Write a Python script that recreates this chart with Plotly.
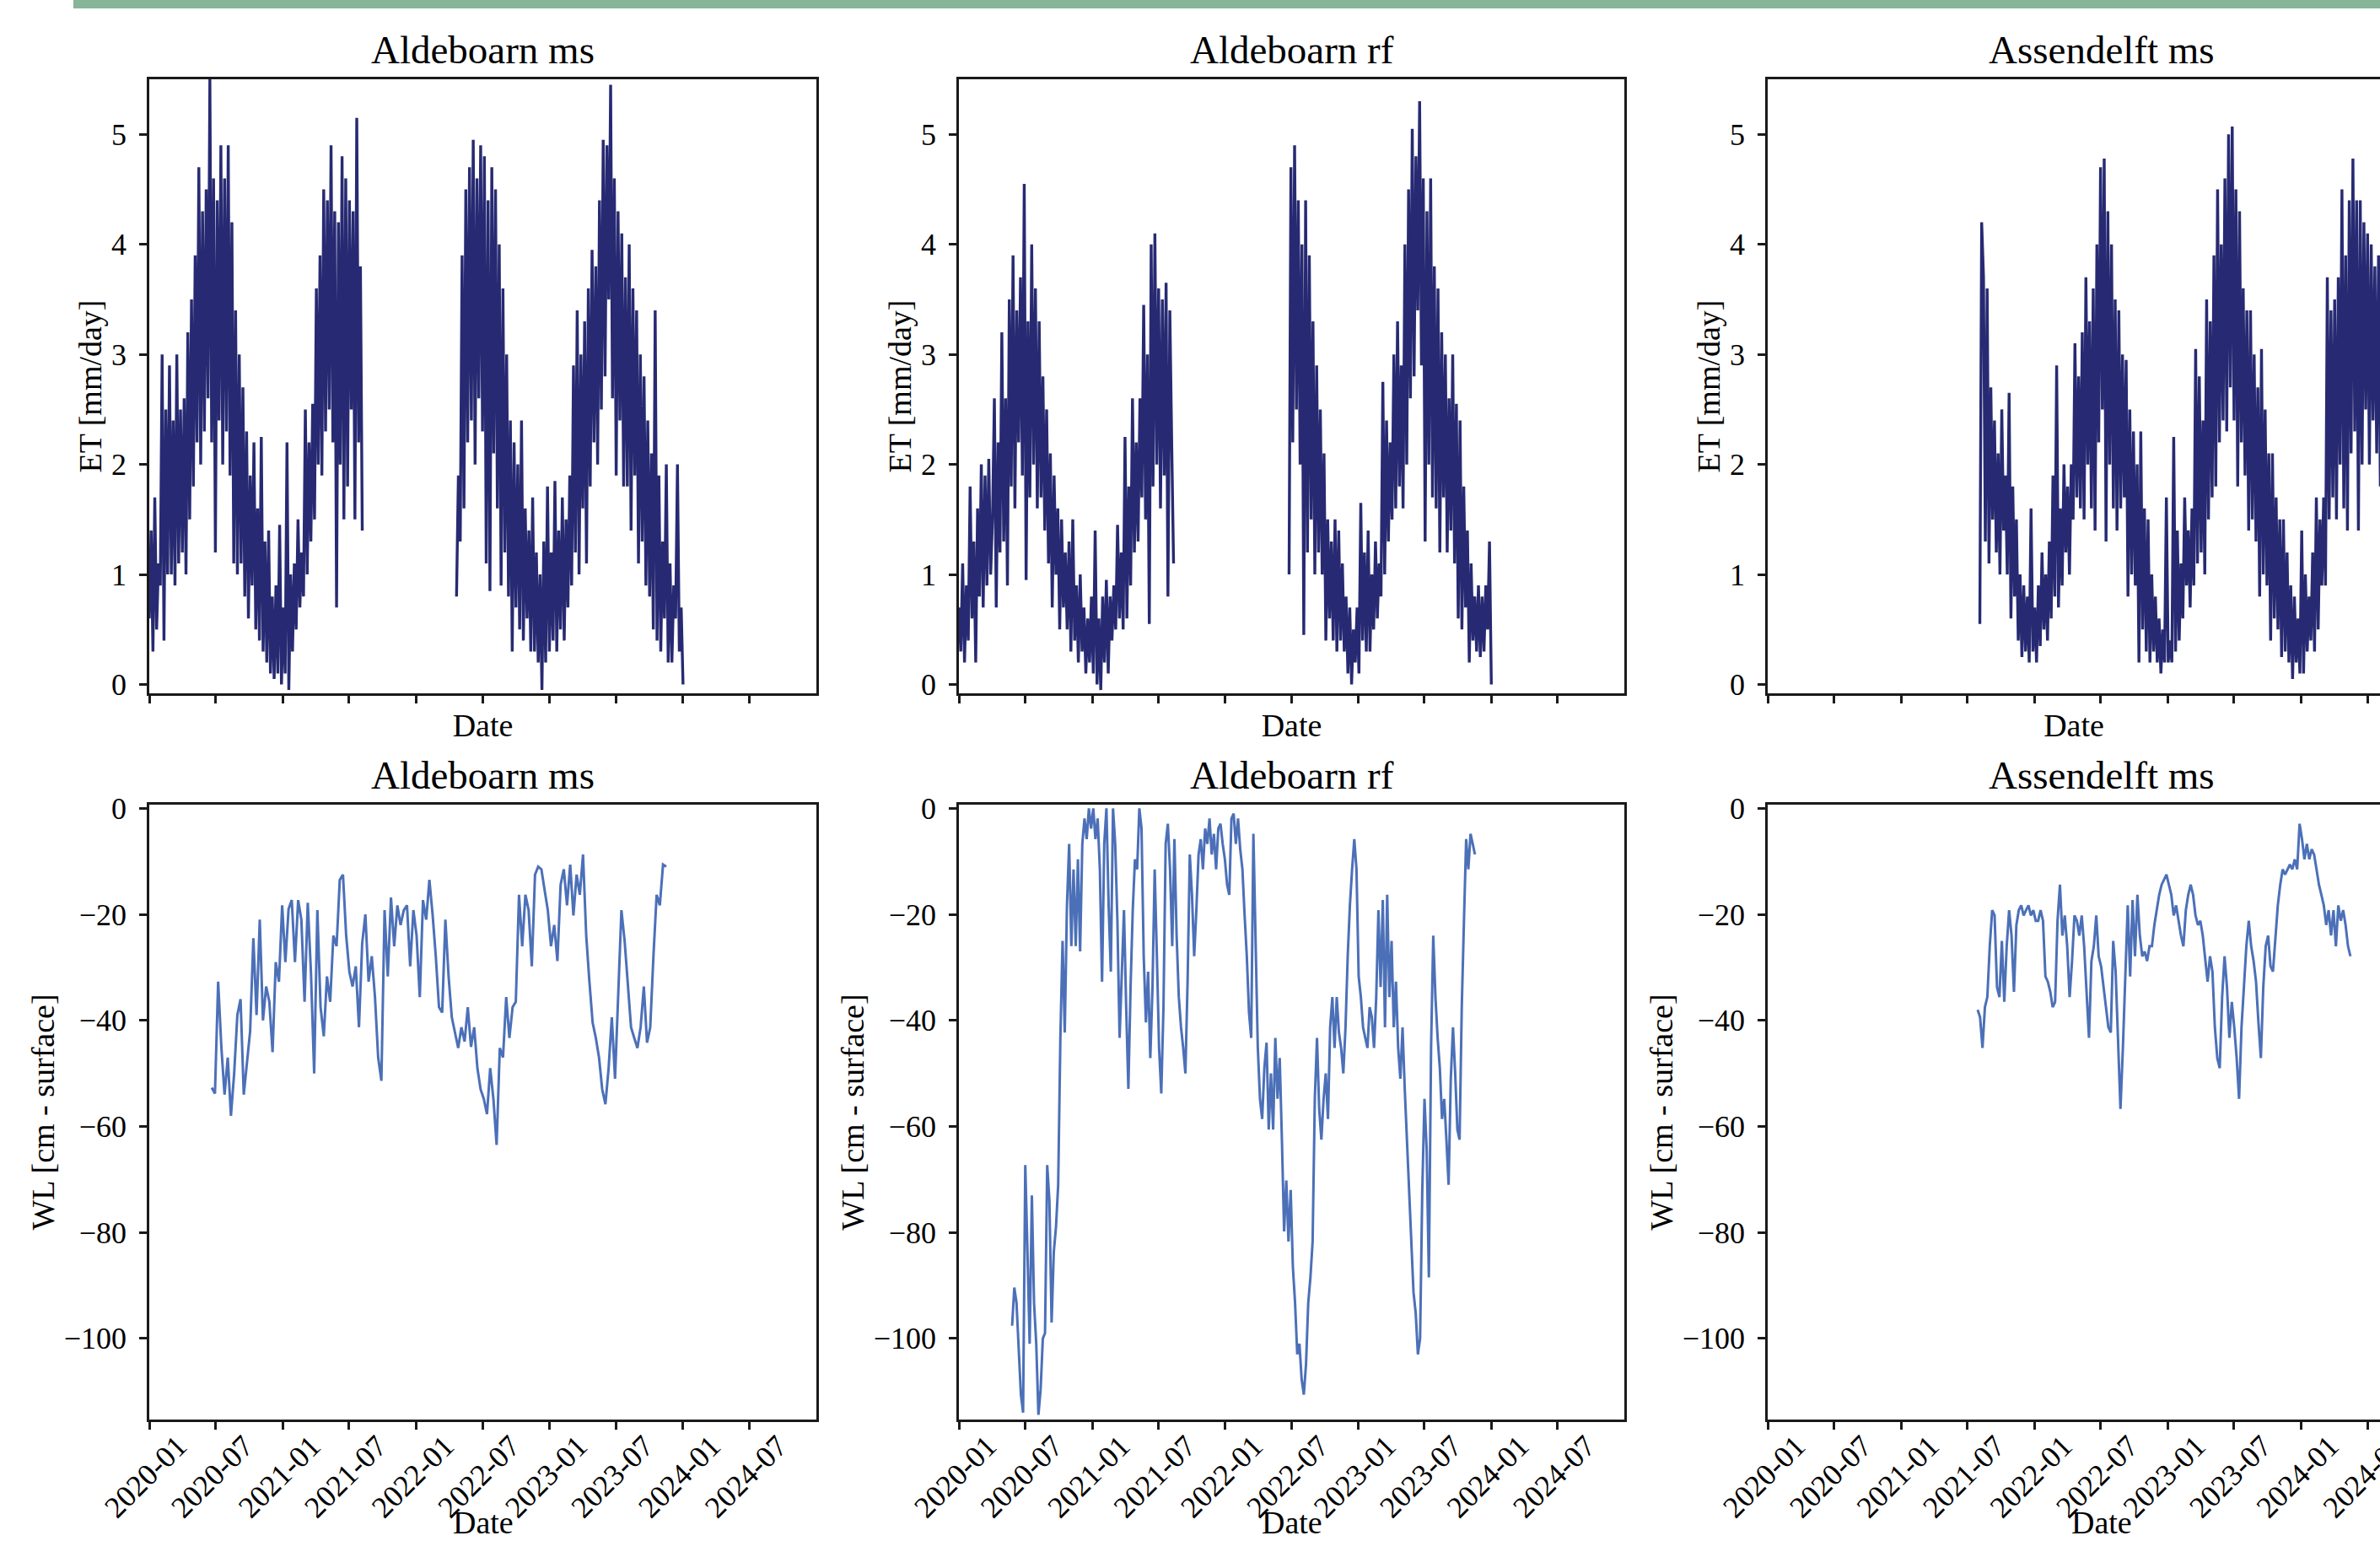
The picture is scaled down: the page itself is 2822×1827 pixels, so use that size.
import pandas as pd
import plotly.graph_objects as go

# ---------------- data ----------------
titles = ["Aldeboarn ms", "Aldeboarn rf", "Assendelft ms"]

# ET [mm/day], ~5-day samples, two segments for the Aldeboarn stations
et_ald_ms_seg1_span = ("2020-01-01", "2021-08-06")
et_ald_ms_seg1 = [
    0.6, 1.4, 0.3, 1.7, 0.5, 1.1,
    0.9, 3.0, 0.4, 2.5, 1.0, 2.9,
    1.0, 2.4, 0.9, 3.0, 1.1, 2.5,
    1.2, 2.6, 1.0, 3.2, 1.5, 3.5,
    1.8, 3.9, 2.2, 4.7, 2.0, 4.3,
    2.3, 4.5, 2.6, 5.5, 2.2, 4.6,
    1.2, 4.4, 2.4, 4.9, 2.0, 4.6,
    2.3, 4.9, 1.9, 4.2, 1.1, 3.4,
    1.0, 3.0, 1.1, 2.7, 0.8, 2.3,
    0.6, 1.9, 0.9, 2.2, 0.5, 1.6,
    0.4, 2.25, 0.3, 1.3, 0.2, 1.4,
    0.1, 0.8, 0.05, 0.9, 0.1, 1.45,
    0.0, 0.7, 0.1, 2.2, -0.05, 1.0,
    0.3, 1.1, 0.5, 1.5, 0.7, 1.2,
    0.8, 2.5, 1.0, 2.2, 1.3, 2.55,
    1.5, 3.6, 2.0, 3.9, 1.9, 4.5,
    2.3, 4.4, 2.5, 4.9, 2.2, 4.3,
    0.7, 4.2, 2.0, 4.8, 1.5, 4.6,
    1.8, 4.4, 2.5, 4.3, 1.5, 5.15,
    2.2, 3.8, 1.4,
]
et_ald_ms_seg2_span = ("2022-04-21", "2024-01-01")
et_ald_ms_seg2 = [
    0.8, 1.9,
    1.3, 3.9, 1.6, 4.5, 2.2, 4.7,
    2.4, 4.95, 2.0, 4.6, 2.6, 4.9,
    2.3, 4.8, 1.1, 4.4, 0.85, 4.7,
    2.1, 4.5, 1.6, 4.0, 0.9, 3.6,
    1.2, 3.0, 0.8, 2.4, 0.3, 2.2,
    0.7, 2.0, 0.5, 2.4, 0.4, 1.6,
    0.6, 1.4, 0.3, 1.7, 0.3, 1.2,
    0.2, 1.0, -0.05, 1.3, 0.2, 1.8,
    0.3, 1.2, 0.4, 1.85, 0.3, 1.4,
    0.5, 1.7, 0.4, 1.5, 0.7, 1.9,
    0.9, 2.9, 1.2, 3.4, 1.0, 3.0,
    1.6, 3.3, 1.1, 3.6, 1.8, 3.95,
    2.2, 3.8, 2.0, 4.4, 2.5, 4.95,
    2.8, 4.9, 3.5, 5.45, 2.6, 4.6,
    1.9, 4.3, 2.4, 4.1, 1.8, 3.7,
    1.8, 4.0, 1.4, 3.6, 1.9, 3.4,
    1.1, 3.0, 1.3, 2.8, 0.9, 2.4,
    0.8, 2.1, 0.5, 3.4, 0.4, 1.9,
    0.3, 1.3, 0.6, 2.0, 0.2, 1.1,
    0.2, 0.9, 0.6, 2.0, 0.3, 0.7, 0.0,
]

et_ald_rf_seg1_span = ("2020-01-01", "2021-08-12")
et_ald_rf_seg1 = [
    0.7, 0.3, 1.1, 0.2, 0.9, 0.4,
    1.8, 0.6, 1.3, 0.2, 1.6, 0.8,
    2.0, 0.7, 1.9, 0.9, 2.05, 1.0,
    1.5, 2.6, 0.7, 2.2, 1.2, 3.2,
    1.3, 2.6, 0.9, 3.5, 1.8, 3.9,
    1.6, 3.4, 2.2, 3.7, 1.9, 4.55,
    0.95, 3.3, 1.7, 4.0, 2.0, 3.6,
    1.6, 3.3, 1.7, 2.8, 1.4, 2.5,
    1.1, 2.1, 0.7, 1.9, 1.0, 1.6,
    0.5, 1.5, 0.7, 1.2, 0.5, 1.3,
    0.3, 1.5, 0.4, 0.9, 0.2, 1.0,
    0.3, 0.7, 0.1, 0.6, 0.2, 0.8,
    0.1, 1.4, 0.0, 0.6, -0.05, 0.8,
    0.2, 0.95, 0.1, 0.8, 0.4, 0.9,
    0.5, 1.45, 0.6, 1.2, 0.5, 2.25,
    0.6, 1.8, 0.9, 2.6, 1.2, 2.2,
    1.3, 2.6, 1.7, 3.45, 1.5, 3.0,
    0.55, 4.0, 1.8, 4.1, 2.0, 3.6,
    1.6, 3.5, 1.9, 3.65, 0.8, 3.4,
    2.2, 1.1,
]
et_ald_rf_seg2_span = ("2022-06-25", "2024-01-01")
et_ald_rf_seg2 = [
    1.0, 4.7,
    2.2, 4.9, 2.5, 4.4, 2.0, 4.0,
    0.45, 4.4, 1.2, 3.9, 1.5, 3.3,
    1.0, 2.9, 1.2, 2.5, 1.0, 2.1,
    0.4, 1.5, 0.6, 1.3, 0.4, 1.5,
    0.3, 1.4, 0.4, 1.1, 0.3, 0.8,
    0.1, 0.7, 0.0, 0.5, 0.2, 0.7,
    0.1, 1.65, 0.4, 1.2, 0.3, 1.4,
    0.3, 1.0, 0.5, 1.3, 0.6, 1.1,
    0.8, 2.75, 1.0, 2.4, 1.3, 2.2,
    1.5, 3.0, 1.6, 3.3, 1.8, 2.9,
    1.6, 4.0, 2.0, 4.5, 2.6, 5.05,
    2.8, 4.8, 3.4, 5.3, 2.9, 4.6,
    1.3, 4.3, 2.0, 4.6, 1.7, 3.8,
    1.6, 3.6, 1.2, 3.2, 1.7, 3.0,
    1.2, 2.6, 1.4, 3.0, 1.1, 2.55,
    0.6, 2.4, 0.5, 1.8, 0.7, 1.4,
    0.2, 1.1, 0.4, 0.8, 0.3, 0.9,
    0.25, 0.8, 0.3, 0.9, 0.5, 1.3, 0.0,
]

et_ass_ms_span = ("2021-08-04", "2024-08-10")
et_ass_ms = [
    0.55, 4.2, 3.7,
    1.3, 3.6, 1.1, 2.7, 1.5, 2.4,
    1.2, 2.1, 1.0, 2.5, 1.4, 1.9,
    1.0, 2.65, 0.6, 1.8, 0.8, 1.5,
    0.4, 1.0, 0.25, 0.9, 0.3, 0.8,
    0.2, 1.6, 0.3, 0.7, 0.2, 0.9,
    0.35, 1.2, 0.5, 1.0, 0.4, 1.3,
    0.6, 1.9, 0.8, 2.9, 0.7, 1.6,
    0.9, 2.0, 1.2, 1.8, 1.0, 2.0,
    1.5, 3.1, 1.7, 2.8, 1.6, 3.2,
    1.5, 3.7, 2.0, 3.3, 1.6, 3.6,
    1.4, 4.0, 2.2, 4.7, 2.5, 4.78,
    1.3, 4.3, 2.0, 4.0, 1.6, 3.5,
    1.4, 3.4, 1.6, 3.0, 1.7, 2.95,
    0.8, 2.5, 1.0, 2.3, 0.9, 2.0,
    0.2, 2.3, 0.5, 1.6, 0.3, 1.5,
    0.2, 1.0, 0.3, 0.8, 0.2, 0.6,
    0.1, 0.5, 0.2, 1.7, 0.2, 0.4,
    0.2, 2.25, 0.3, 1.4, 0.4, 1.1,
    0.6, 1.7, 0.9, 1.4, 0.7, 1.6,
    0.9, 3.05, 1.1, 2.8, 1.2, 2.4,
    1.0, 3.5, 1.5, 3.3, 1.7, 3.9,
    1.8, 4.5, 2.2, 4.0, 2.4, 4.6,
    2.3, 5.0, 2.7, 5.07, 2.4, 4.5,
    1.8, 4.3, 2.2, 3.6, 1.9, 3.4,
    1.4, 3.4, 1.5, 3.0, 1.3, 2.7,
    0.8, 3.05, 1.0, 2.5, 0.9, 2.1,
    0.4, 2.1, 0.6, 1.7, 0.5, 1.5,
    0.25, 1.5, 0.3, 1.2, 0.2, 0.9,
    0.05, 0.8, 0.2, 0.6, 0.1, 1.4,
    0.1, 1.0, 0.3, 0.8, 0.4, 1.2,
    0.3, 1.7, 0.5, 1.5, 0.9, 1.7,
    0.9, 3.7, 1.5, 3.4, 1.7, 3.5,
    1.5, 3.7, 2.0, 4.5, 1.6, 3.9,
    1.4, 4.4, 2.1, 4.78, 2.3, 4.4,
    1.4, 4.4, 2.0, 4.2, 2.5, 4.1,
    2.0, 4.0, 2.4, 3.8, 2.1, 3.9,
    1.8, 3.6,
]

# WL [cm - surface]
wl_ald_ms_span = ("2020-06-20", "2023-11-16")
wl_ald_ms = [
    -52.7, -53.8, -32.7, -45, -54, -47, -58, -50, -39, -36, -54, -47.5, -42,
    -24.5, -39, -21, -40, -33.6, -36.5, -46, -29, -32.7, -18.3, -29, -19,
    -17.3, -29, -17.3, -21, -36.5, -17.8, -31, -50, -19.2, -37.5, -43, -31.7,
    -36.5, -24, -26, -13.5, -12.5, -24, -30.8, -33.6, -29.8, -41.3, -25.5,
    -20, -32.7, -27.9, -35.6, -47, -51.4, -19.2, -31.7, -16.8, -26, -18.3,
    -22, -19.2, -18.3, -29.8, -19.2, -24, -35.6, -17.3, -21, -13.5, -20,
    -27.9, -37.5, -38.5, -21, -31.7, -39.4, -42.3, -45.2, -41.3, -44, -37.5,
    -45, -41.3, -49, -53, -54.8, -57.7, -49, -54.8, -63.5, -45.2, -47, -35.6,
    -43.3, -37.5, -36.5, -16.3, -26, -16.3, -19.2, -29.8, -12.5, -11, -11.5,
    -15.4, -19.2, -26, -22, -28.8, -14.4, -11.5, -18.3, -10.6, -20.2, -12.5,
    -16.3, -8.7, -24, -32.7, -40.4, -43.3, -47, -53, -55.8, -49, -39.4, -51,
    -33.6, -19.2, -25, -33.6, -41.3, -43.3, -45.2, -41.3, -33.6, -44.2,
    -41.3, -27.9, -16.3, -18.3, -10.6, -11,
]

wl_ald_rf_span = ("2020-05-26", "2023-11-17")
wl_ald_rf = [
    -97.6, -90.4, -93.3, -103, -110.6, -114, -67.3, -83.7, -101, -73, -93.3,
    -101, -114.4, -109.6, -100, -99, -67.3, -74, -97, -83.7, -79, -71, -43.3,
    -25, -42.3, -18.3, -6.7, -26, -11.5, -26, -9.6, -27, -6.7, -1.9, -5.8, 0,
    -3.8, 0, -5.8, -1.9, -11.5, -32.7, -6.7, 0, -18.3, -30.8, 0, -6.7, -21.2,
    -43.3, -30.8, -19.2, -37.5, -52.9, -33.7, -19.2, -9.6, -11.5, 0, -3.8,
    -27.9, -40.4, -30.8, -47.1, -33.7, -11.5, -27.9, -45.2, -53.8, -37.5,
    -6.7, -2.9, -11.5, -26, -5.8, -24, -35.6, -41.3, -45.2, -50, -32.7, -8.7,
    -16.3, -27.9, -19.2, -8.7, -5.8, -11.5, -3.8, -6.7, -1.9, -8.7, -4.8,
    -11.5, -3.8, -2.9, -6.7, -9.6, -14.4, -16.3, -1.9, -1, -6.7, -1.9, -7.7,
    -11.5, -20.2, -27.9, -38.5, -43.3, -4.8, -26, -45, -54.8, -58.6, -49,
    -44.2, -60.6, -50, -60.6, -43.3, -54.8, -47.1, -62.5, -79.8, -70.2,
    -81.7, -72, -86.5, -93.3, -103, -101, -107.7, -110.6, -104.8, -93.3,
    -88.5, -81.7, -54.8, -43.3, -56.7, -62.5, -54.8, -50, -58.6, -41.3,
    -35.6, -45.2, -35.6, -42.3, -45.2, -50, -41.3, -27.9, -18.3, -11.5, -5.8,
    -11.5, -31.7, -35.6, -41.3, -43.3, -45.2, -37.5, -39.4, -45.2, -35.6,
    -19.2, -33.7, -17.3, -41.3, -16.3, -35.6, -25, -41.3, -32.7, -45.2, -51,
    -41.3, -52.9, -62.5, -72, -81.7, -91.3, -95.2, -103, -100, -72, -54.8,
    -64.4, -88.5, -45.2, -24, -35.6, -43.3, -49, -58.6, -54.8, -62.5, -71,
    -51, -41.3, -50, -60.6, -62.5, -37.5, -21.2, -5.8, -11.5, -4.8, -6.7,
    -8.7,
]

wl_ass_ms_span = ("2021-07-29", "2024-05-15")
wl_ass_ms = [
    -38, -39.4, -45.2, -37.5, -35.6, -26, -19.2, -20.2, -33.7, -35.6, -25,
    -36.5, -26, -19.2, -24, -34.6, -22, -19.2, -18.3, -20.2, -19.2, -18.3,
    -20.2, -19.2, -21.2, -21.2, -19.2, -21.2, -31.7, -32.7, -34.6, -37.5,
    -36.5, -21.2, -14.4, -24, -20.2, -26, -35.6, -28.8, -20.2, -21.2, -24,
    -20.2, -26, -35.6, -43.3, -28.8, -26, -20.2, -27.9, -29.8, -33.7, -37.5,
    -41.3, -42.3, -25, -30.8, -45.2, -56.7, -45.2, -30.8, -18.3, -31.7,
    -17.3, -27.9, -16.3, -24, -27.9, -27, -28.8, -26, -26, -22, -19.2, -16.3,
    -14.4, -13.5, -12.5, -14.4, -16.3, -20.2, -18.3, -21.2, -24, -26, -19.2,
    -16.3, -14.4, -16.3, -20.2, -22, -21.2, -24, -27.9, -32.7, -27.9, -30.8,
    -41.3, -47.1, -49, -35.6, -27.9, -33.7, -43.3, -36.5, -41.3, -47.1,
    -54.8, -41.3, -33.7, -26, -21.2, -26, -28.8, -32.7, -40.4, -47.1, -33.7,
    -26, -24, -29.8, -30.8, -24, -18.3, -14.4, -11.5, -12.5, -11.5, -10.6,
    -11.5, -9.6, -11.5, -2.9, -5.8, -9.6, -6.7, -9.6, -7.7, -8.7, -11.5,
    -14.4, -16.3, -18.3, -22, -19.2, -24, -19.2, -26, -18.3, -21.2, -19.2,
    -22, -26, -27.9,
]

x_range = ["2020-01-01", "2024-12-31"]
x_range_cropped = ["2020-01-01", "2024-08-04"]   # right column is cut by the frame
et_range = [-0.08, 5.5]
wl_range = [-115.3, 0.7]
et_ticks = [0, 1, 2, 3, 4, 5]
wl_ticks = [0, -20, -40, -60, -80, -100]

# ---------------- styling ----------------
W, H = 2822, 1827
FONT = "Liberation Serif, Times New Roman, serif"
ET_COLOR = "#272A72"
WL_COLOR = "#4C70B8"
AX = "#1a1a1a"

col_px = [(177, 968), (1137, 1926), (2096, 2822)]
row_px = [(94, 822), (954, 1683)]


def seg_xy(span, vals):
    d = pd.date_range(span[0], span[1], periods=len(vals))
    return list(d), list(vals)


def join(*segs):
    xs, ys = [], []
    for i, (span, vals) in enumerate(segs):
        x, y = seg_xy(span, vals)
        if i > 0:
            xs.append(x[0] - pd.Timedelta(days=1))
            ys.append(None)
        xs += x
        ys += y
    return xs, ys


et_series = [
    join((et_ald_ms_seg1_span, et_ald_ms_seg1), (et_ald_ms_seg2_span, et_ald_ms_seg2)),
    join((et_ald_rf_seg1_span, et_ald_rf_seg1), (et_ald_rf_seg2_span, et_ald_rf_seg2)),
    join((et_ass_ms_span, et_ass_ms)),
]
wl_series = [
    join((wl_ald_ms_span, wl_ald_ms)),
    join((wl_ald_rf_span, wl_ald_rf)),
    join((wl_ass_ms_span, wl_ass_ms)),
]

fig = go.Figure()
layout = dict(
    width=W, height=H,
    margin=dict(l=0, r=0, t=0, b=0, pad=0, autoexpand=False),
    paper_bgcolor="white", plot_bgcolor="white",
    showlegend=False,
    font=dict(family=FONT, color="black", size=36),
)

annotations = []
for r in range(2):
    for c in range(3):
        k = r * 3 + c + 1
        xa = "xaxis" if k == 1 else f"xaxis{k}"
        ya = "yaxis" if k == 1 else f"yaxis{k}"
        xref = "x" if k == 1 else f"x{k}"
        yref = "y" if k == 1 else f"y{k}"
        x0, x1 = col_px[c]
        y0, y1 = row_px[r]
        xc = ((x0 + (x1 if c < 2 else 2887)) / 2) / W
        common = dict(
            automargin=False,
            showline=True, linecolor=AX, linewidth=2.5,
            ticks="outside", ticklen=9, tickwidth=2.5, tickcolor=AX,
            showgrid=False, zeroline=False,
            tickfont=dict(family=FONT, size=36, color="black"),
        )
        xaxis = dict(
            common,
            domain=[x0 / W, x1 / W],
            anchor=yref,
            type="date",
            range=x_range_cropped if c == 2 else x_range,
            tick0="2020-01-01", dtick="M6", tickformat="%Y-%m",
            mirror=True,
            showticklabels=(r == 1),
            tickangle=-45,
            ticklabelshift=34,
            ticklabelstandoff=-16,
            ticklabeloverflow="allow",
        )
        if r == 0:
            xaxis["title"] = dict(text="Date", font=dict(family=FONT, size=38, color="black"),
                                  standoff=14)
        else:
            # bottom-row "Date" sits at the lower edge of the frame, below the rotated labels
            annotations.append(dict(
                text="Date", xref="paper", yref="paper", x=xc, y=0,
                xanchor="center", yanchor="bottom", yshift=0, borderpad=0,
                showarrow=False, font=dict(family=FONT, size=38, color="black"),
            ))
        layout[xa] = xaxis
        layout[ya] = dict(
            common,
            domain=[1 - y1 / H, 1 - y0 / H],
            anchor=xref,
            range=et_range if r == 0 else wl_range,
            tickvals=et_ticks if r == 0 else wl_ticks,
            mirror=(c != 2),
            ticklabelstandoff=8,
            title=dict(text="ET [mm/day]" if r == 0 else "WL [cm - surface]",
                       font=dict(family=FONT, size=38, color="black"), standoff=0),
        )
        xs, ys = (et_series if r == 0 else wl_series)[c]
        fig.add_trace(go.Scatter(
            x=xs, y=ys, mode="lines", xaxis=xref, yaxis=yref,
            line=dict(color=ET_COLOR if r == 0 else WL_COLOR, width=3.4 if r == 0 else 3.0),
            connectgaps=False, hoverinfo="skip",
        ))
        annotations.append(dict(
            text=titles[c], xref="paper", yref="paper",
            x=xc, y=1 - (y0 - 7) / H, xanchor="center", yanchor="bottom",
            showarrow=False, font=dict(family=FONT, size=47, color="black"),
        ))

layout["annotations"] = annotations
layout["shapes"] = [dict(
    type="rect", xref="paper", yref="paper",
    x0=87 / W, x1=1, y0=1 - 10 / H, y1=1,
    fillcolor="#87B597", line=dict(width=0), layer="above",
)]
fig.update_layout(**layout)
fig.write_html(
    "out.html",
    config={"displayModeBar": False},
    post_script="document.body.style.margin='0';document.body.style.overflow='hidden';",
)
